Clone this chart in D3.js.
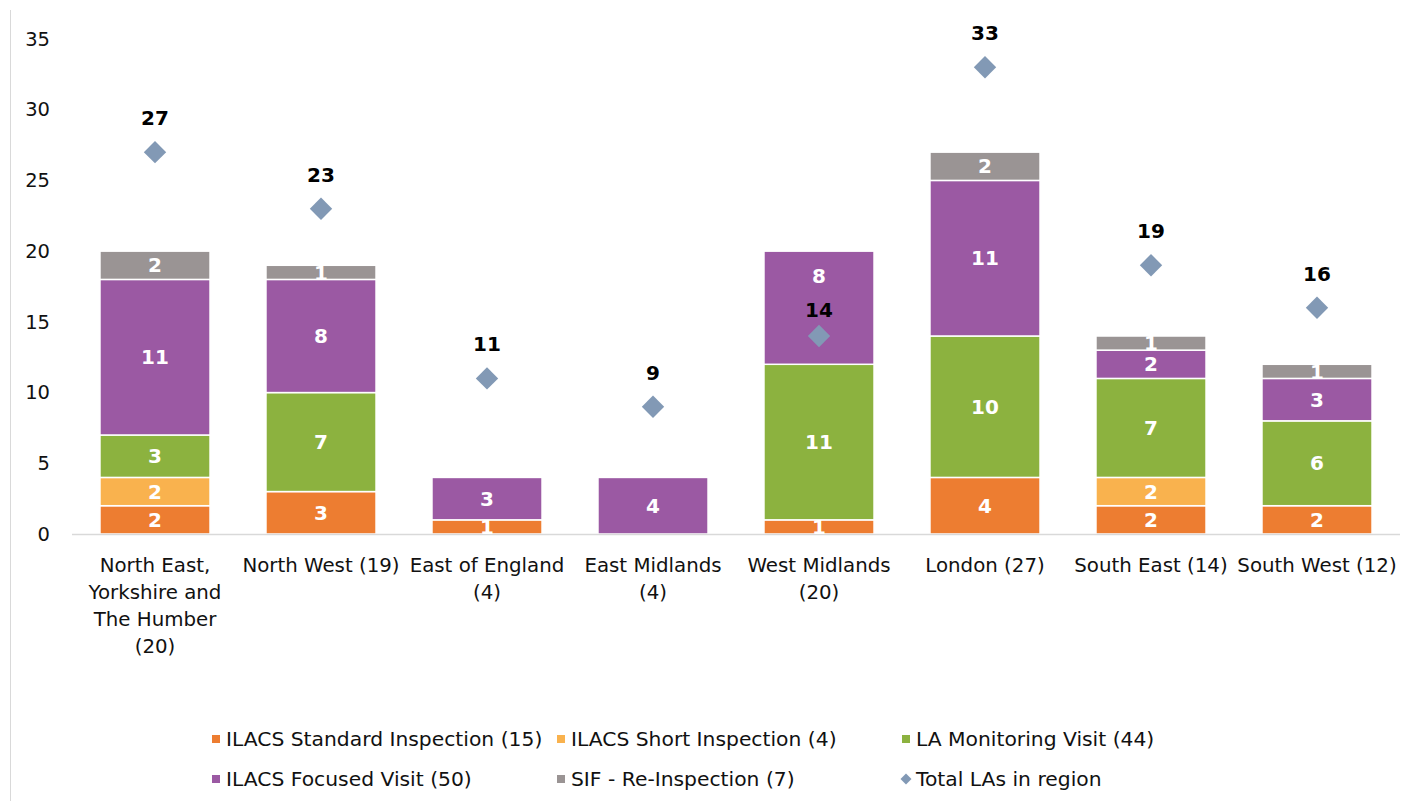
<!DOCTYPE html>
<html>
<head>
<meta charset="utf-8">
<script src="https://cdn.jsdelivr.net/npm/d3@7"></script>
<style>
  html, body { margin: 0; padding: 0; background: #fff; }
  svg { display: block; }
  text { font-family: Tahoma, "DejaVu Sans", sans-serif; }
</style>
</head>
<body>
<svg id="chart" width="1413" height="801"></svg>
<script>
const categories = [
  "North East, Yorkshire and The Humber (20)",
  "North West (19)",
  "East of England (4)",
  "East Midlands (4)",
  "West Midlands (20)",
  "London (27)",
  "South East (14)",
  "South West (12)"
];
const categoryLines = [
  ["North East,", "Yorkshire and", "The Humber", "(20)"],
  ["North West (19)"],
  ["East of England", "(4)"],
  ["East Midlands", "(4)"],
  ["West Midlands", "(20)"],
  ["London (27)"],
  ["South East (14)"],
  ["South West (12)"]
];
const seriesNames = [
  "ILACS Standard Inspection (15)",
  "ILACS Short Inspection (4)",
  "LA Monitoring Visit (44)",
  "ILACS Focused Visit (50)",
  "SIF - Re-Inspection (7)"
];
const standardInspection = [2, 3, 1, 0, 1, 4, 2, 2];
const shortInspection    = [2, 0, 0, 0, 0, 0, 2, 0];
const monitoringVisit    = [3, 7, 0, 0, 11, 10, 7, 6];
const focusedVisit       = [11, 8, 3, 4, 8, 11, 2, 3];
const sifReinspection    = [2, 1, 0, 0, 0, 2, 1, 1];
const totalLAs           = [27, 23, 11, 9, 14, 33, 19, 16];
const totalName = "Total LAs in region";
const yTicks = [0, 5, 10, 15, 20, 25, 30, 35];
const colors = ["#ED7D31", "#F9B24E", "#8CB23F", "#9B59A3", "#9A9494"];
const diamondColor = "#8299B5";

const seriesValues = [standardInspection, shortInspection, monitoringVisit, focusedVisit, sifReinspection];

const svg = d3.select("#chart");
const margin = { left: 72, right: 13 };
const W = 1413, H = 801;
const FONT = 'Tahoma, "DejaVu Sans", sans-serif';

// outer frame line (left)
svg.append("line").attr("x1", 10.5).attr("x2", 10.5).attr("y1", 10).attr("y2", H)
  .attr("stroke", "#D9D9D9").attr("stroke-width", 1);

const x = d3.scaleBand().domain(categories).range([margin.left, W - margin.right]).paddingInner(0.337).paddingOuter(0.1685);
const y = d3.scaleLinear().domain([0, 35]).range([534, 39]);

// y axis labels
const yAxis = svg.append("g").attr("transform", `translate(${margin.left},0)`)
  .call(d3.axisLeft(y).tickValues(yTicks).tickSize(0).tickPadding(22));
yAxis.select(".domain").remove();
yAxis.selectAll("text").attr("font-size", 19.5).attr("fill", "#111").style("font-family", FONT);

// stack
const rows = categories.map((c, i) => {
  const o = { cat: c };
  seriesNames.forEach((s, j) => o[s] = seriesValues[j][i]);
  return o;
});
const stack = d3.stack().keys(seriesNames)(rows);

const g = svg.append("g");
stack.forEach((layer, j) => {
  layer.forEach((d, i) => {
    const v = d[1] - d[0];
    if (v <= 0) return;
    g.append("rect")
      .attr("x", x(categories[i]))
      .attr("width", x.bandwidth())
      .attr("y", y(d[1]))
      .attr("height", y(d[0]) - y(d[1]))
      .attr("fill", colors[j])
      .attr("stroke", "#fff").attr("stroke-width", 1.5);
  });
});

// baseline
svg.append("line").attr("x1", margin.left).attr("x2", W - margin.right)
  .attr("y1", y(0) + 0.5).attr("y2", y(0) + 0.5).attr("stroke", "#D9D9D9").attr("stroke-width", 1.5);

// label nudges (in pixels) to avoid overlap, as in the reference
function valueNudge(j, i) {
  return (j === 3 && categories[i].startsWith("West Midlands")) ? -32 : 0;
}
function totalNudge(i) {
  return categories[i].startsWith("West Midlands") ? 8 : 0;
}

// value labels
stack.forEach((layer, j) => {
  layer.forEach((d, i) => {
    const v = d[1] - d[0];
    if (v <= 0) return;
    svg.append("text")
      .attr("x", x(categories[i]) + x.bandwidth() / 2)
      .attr("y", (y(d[0]) + y(d[1])) / 2 + valueNudge(j, i))
      .attr("dy", "0.36em")
      .attr("text-anchor", "middle")
      .attr("font-size", 20).attr("font-weight", "bold").attr("fill", "#fff")
      .text(v);
  });
});

// diamonds
const diamond = d3.symbol().type(d3.symbolSquare).size(250);
totalLAs.forEach((v, i) => {
  const cx = x(categories[i]) + x.bandwidth() / 2;
  svg.append("path").attr("d", diamond())
    .attr("transform", `translate(${cx},${y(v)}) rotate(45)`)
    .attr("fill", diamondColor);
  svg.append("text")
    .attr("x", cx).attr("y", y(v) - 27 + totalNudge(i))
    .attr("text-anchor", "middle")
    .attr("font-size", 20).attr("font-weight", "bold").attr("fill", "#000")
    .text(v);
});

// x labels
categoryLines.forEach((lines, i) => {
  const cx = x(categories[i]) + x.bandwidth() / 2;
  const t = svg.append("text").attr("text-anchor", "middle")
    .attr("font-size", 19.8).attr("fill", "#111");
  lines.forEach((l, k) => {
    t.append("tspan").attr("x", cx).attr("y", 572 + k * 27).text(l);
  });
});

// legend
const legendItems = seriesNames.map((s, j) => ({ name: s, color: colors[j], type: "sq" }))
  .concat([{ name: totalName, color: diamondColor, type: "dia" }]);
const colX = [216, 561, 906];
const rowY = [739, 779];
legendItems.forEach((it, k) => {
  const lx = colX[k % 3], ly = rowY[Math.floor(k / 3)];
  const lg = svg.append("g").attr("transform", `translate(${lx},${ly})`);
  if (it.type === "sq") {
    lg.append("rect").attr("x", -4).attr("y", -4).attr("width", 8).attr("height", 8).attr("fill", it.color);
  } else {
    lg.append("path").attr("d", d3.symbol().type(d3.symbolSquare).size(60)())
      .attr("transform", "rotate(45)").attr("fill", it.color);
  }
  lg.append("text").attr("x", 10).attr("dy", "0.36em")
    .attr("font-size", 20.3).attr("fill", "#111").text(it.name);
});
</script>
</body>
</html>
